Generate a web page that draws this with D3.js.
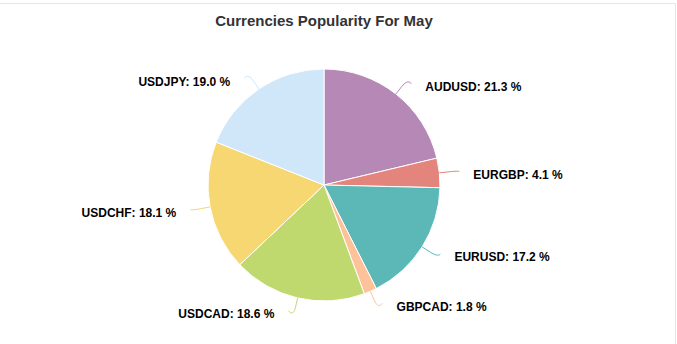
<!DOCTYPE html>
<html>
<head>
<meta charset="utf-8">
<script src="https://cdn.jsdelivr.net/npm/d3@7"></script>
<style>
  html, body { margin: 0; padding: 0; background: #fff; }
  svg { display: block; }
</style>
</head>
<body>
<svg id="chart" width="677" height="344"></svg>
<script>
// Currency pair shares for May (percent)
const pairs   = ["AUDUSD", "EURGBP", "EURUSD", "GBPCAD", "USDCAD", "USDCHF", "USDJPY"];
const shares  = [21.3, 4.1, 17.2, 1.8, 18.6, 18.1, 19.0];
const colours = ["#b688b6", "#e4857d", "#5bb8b7", "#fdc29a", "#bfd96f", "#f6d771", "#d0e6f9"];
const title   = "Currencies Popularity For May";

const W = 677, H = 344;
const cx = 324, cy = 185, r = 116;

const svg = d3.select("#chart");

// frame lines along the top and right of the container
svg.append("line").attr("x1", 0).attr("x2", 676).attr("y1", 3.5).attr("y2", 3.5)
  .attr("stroke", "#e6e6e6").attr("stroke-width", 1);
svg.append("line").attr("x1", 675.5).attr("x2", 675.5).attr("y1", 3).attr("y2", H)
  .attr("stroke", "#e6e6e6").attr("stroke-width", 1);

svg.append("text")
  .attr("x", cx).attr("y", 26)
  .attr("text-anchor", "middle")
  .attr("font-family", "'Liberation Sans', Arial, sans-serif")
  .attr("font-size", 15).attr("font-weight", "bold")
  .attr("fill", "#333")
  .text(title);

const data = pairs.map((p, i) => ({ pair: p, value: shares[i], colour: colours[i] }));

const pie = d3.pie().value(d => d.value).sort(null);
const arcs = pie(data);
const arc = d3.arc().innerRadius(0).outerRadius(r);

const g = svg.append("g").attr("transform", `translate(${cx},${cy})`);

g.selectAll("path.slice")
  .data(arcs)
  .join("path")
  .attr("class", "slice")
  .attr("d", arc)
  .attr("fill", d => d.data.colour)
  .attr("stroke", "#fff")
  .attr("stroke-width", 1);

// label layout: anchors on an ellipse around the pie, pushed a little further
// sideways near the top and bottom, joined to the slices by soft connectors
const labelRx = r + 20, labelRy = r + 13, breakOut = 10, gap = 14, spread = 5;

arcs.forEach(d => {
  const a = (d.startAngle + d.endAngle) / 2;
  const s = Math.sin(a), c = -Math.cos(a);
  const right = s >= 0;
  const dir = right ? 1 : -1;
  const base = [r * s, r * c];
  const brk  = [(r + breakOut) * s, (r + breakOut) * c];
  const end  = [labelRx * s + dir * spread * c * c, labelRy * c];
  const ctrl = [2 * brk[0] - base[0], 2 * brk[1] - base[1]];

  const path = `M${end[0]},${end[1]} C${end[0]},${end[1]} ${ctrl[0]},${ctrl[1]} ${brk[0]},${brk[1]} L${base[0]},${base[1]}`;
  g.append("path")
    .attr("d", path)
    .attr("fill", "none")
    .attr("stroke", d.data.colour)
    .attr("stroke-width", 1);

  g.append("text")
    .attr("x", end[0] + dir * gap)
    .attr("y", end[1] + 7.5)
    .attr("text-anchor", right ? "start" : "end")
    .attr("font-family", "'Liberation Sans', Arial, sans-serif")
    .attr("font-size", 12).attr("font-weight", "bold")
    .attr("fill", "#000")
    .text(`${d.data.pair}: ${d3.format(".1f")(d.data.value)} %`);
});
</script>
</body>
</html>
